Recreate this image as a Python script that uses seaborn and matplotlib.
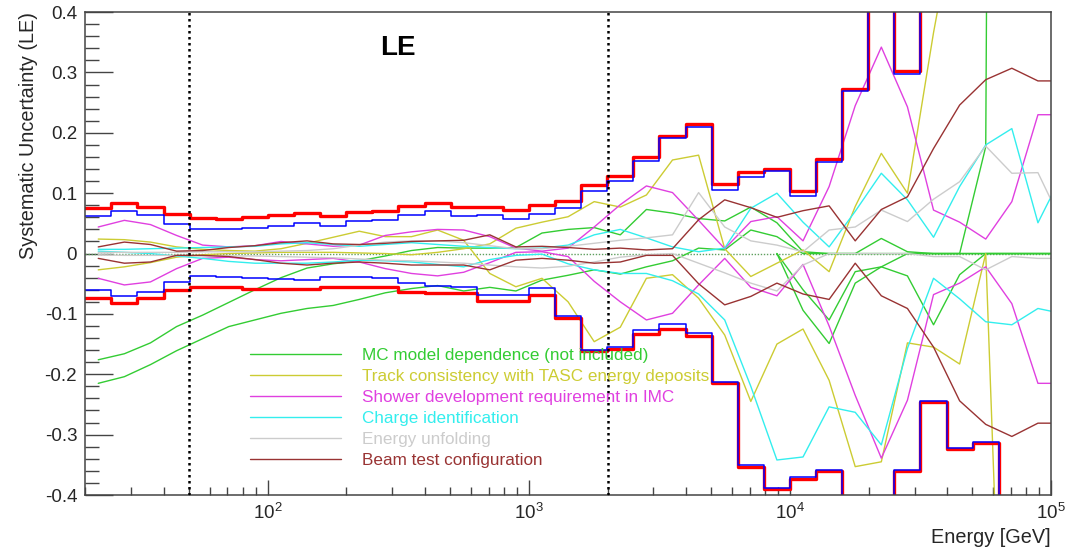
import numpy as np
import pandas as pd
import matplotlib
matplotlib.use("Agg")
import matplotlib.pyplot as plt
import seaborn as sns
from matplotlib.ticker import LogLocator, MultipleLocator, FuncFormatter, LogFormatterMathtext, NullFormatter

# ---------------- data ----------------
# histogram bins: 10 per decade from 10^1.3 (20 GeV) to 10^5 GeV
bin_edges = 10 ** (1.3 + 0.1 * np.arange(38))
# curve points at bin centres (the last one lies just beyond 10^5 GeV)
centres = 10 ** (1.35 + 0.1 * np.arange(38))

total_up_red = [0.075, 0.083, 0.077, 0.065, 0.059, 0.057, 0.060, 0.064, 0.067, 0.063,
                0.069, 0.070, 0.079, 0.083, 0.077, 0.077, 0.072, 0.080, 0.087, 0.113,
                0.128, 0.160, 0.195, 0.214, 0.115, 0.135, 0.140, 0.104, 0.156, 0.272,
                0.5, 0.302, 0.5, 0.5, 0.5, 0.5, 0.5]
total_up_blue = [0.062, 0.070, 0.064, 0.049, 0.041, 0.041, 0.042, 0.046, 0.050, 0.045,
                 0.054, 0.056, 0.064, 0.071, 0.063, 0.064, 0.057, 0.066, 0.075, 0.104,
                 0.121, 0.154, 0.191, 0.210, 0.106, 0.127, 0.136, 0.096, 0.151, 0.270,
                 0.5, 0.298, 0.5, 0.5, 0.5, 0.5, 0.5]
total_lo_red = [-0.074, -0.082, -0.074, -0.060, -0.056, -0.056, -0.058, -0.059, -0.059, -0.055,
                -0.055, -0.055, -0.063, -0.066, -0.066, -0.079, -0.079, -0.068, -0.107, -0.162,
                -0.158, -0.133, -0.125, -0.137, -0.215, -0.353, -0.390, -0.374, -0.360, -0.5,
                -0.5, -0.361, -0.246, -0.324, -0.314, -0.5, -0.5]
total_lo_blue = [-0.061, -0.071, -0.063, -0.047, -0.038, -0.039, -0.041, -0.042, -0.044, -0.039,
                 -0.039, -0.040, -0.049, -0.054, -0.056, -0.068, -0.068, -0.057, -0.104, -0.160,
                 -0.154, -0.127, -0.117, -0.132, -0.212, -0.350, -0.388, -0.371, -0.359, -0.5,
                 -0.5, -0.359, -0.245, -0.322, -0.313, -0.5, -0.5]

mc_a = [-0.176, -0.166, -0.148, -0.121, -0.102, -0.081, -0.060, -0.040, -0.024, -0.017,
        -0.012, -0.004, 0.005, 0.010, 0.009, 0.009, 0.010, 0.034, 0.040, 0.043,
        0.031, 0.073, 0.067, 0.058, 0.054, 0.077, 0.051, 0.003, 0.0, 0.0,
        0.025, 0.003, 0.0, 0.0, 0.177, 8.0, 8.0, 8.0]
mc_b = [-0.215, -0.204, -0.184, -0.161, -0.141, -0.121, -0.110, -0.099, -0.091, -0.086,
        -0.076, -0.065, -0.058, -0.053, -0.062, -0.056, -0.062, -0.044, -0.036, -0.027,
        -0.034, -0.022, -0.012, 0.009, 0.006, 0.039, 0.028, 0.0, 0.0, 0.0,
        0.0, 0.0, 0.0, 0.0, 0.0, 0.0, 0.0, 0.0]
mc_start = 26  # the two other MC curves start at this bin
mc_c = [0.0, -0.060, -0.110, -0.030, -0.022, -0.037, -0.118, -0.035, 0.0, 0.0, 0.0, 0.0]
mc_d = [0.0, -0.094, -0.149, -0.049, -0.022, 0.0, 0.0, 0.0, 0.0, 0.0, 0.0, 0.0]

track_1 = [0.024, 0.023, 0.019, 0.011, 0.007, 0.005, 0.004, 0.008, 0.017, 0.027,
           0.037, 0.028, 0.028, 0.039, 0.022, -0.033, -0.055, -0.041, -0.080, -0.146,
           -0.122, -0.041, -0.035, -0.074, -0.135, -0.245, -0.150, -0.125, -0.210, -0.353,
           -0.345, -0.148, -0.155, -0.183, 0.0, -1.2, -1.2, -1.2]
track_2 = [-0.027, -0.022, -0.015, -0.006, -0.002, 0.0, 0.001, 0.002, 0.002, 0.002,
           0.001, 0.0, -0.002, 0.002, 0.008, 0.016, 0.042, 0.052, 0.061, 0.086,
           0.077, 0.097, 0.155, 0.163, 0.008, -0.038, -0.016, 0.006, -0.030, 0.078,
           0.166, 0.100, 0.366, 0.6, 0.6, 0.6, 0.6, 0.6]

shower_1 = [0.044, 0.055, 0.048, 0.030, 0.014, 0.011, 0.013, 0.020, 0.016, 0.012,
            0.014, 0.030, 0.036, 0.040, 0.039, 0.028, 0.009, 0.004, 0.009, 0.044,
            0.081, 0.112, 0.101, 0.055, 0.008, 0.053, 0.061, 0.021, 0.111, 0.245,
            0.342, 0.243, 0.072, 0.052, 0.024, 0.086, 0.230, 0.230]
shower_2 = [-0.041, -0.052, -0.047, -0.025, -0.008, -0.006, -0.010, -0.012, -0.010, -0.008,
            -0.014, -0.025, -0.033, -0.037, -0.031, -0.015, 0.002, 0.003, -0.005, -0.046,
            -0.080, -0.110, -0.099, -0.052, -0.008, -0.056, -0.070, -0.018, -0.120, -0.235,
            -0.339, -0.243, -0.068, -0.049, -0.022, -0.083, -0.215, -0.215]

charge_1 = [0.007, 0.007, 0.008, 0.009, 0.010, 0.011, 0.012, 0.016, 0.018, 0.015,
            0.012, 0.015, 0.018, 0.015, 0.012, 0.010, 0.008, 0.009, 0.014, 0.031,
            0.040, 0.026, 0.011, 0.003, 0.009, 0.075, 0.100, 0.052, 0.011, 0.070,
            0.133, 0.089, 0.027, 0.111, 0.180, 0.207, 0.051, 0.137]
charge_2 = [0.004, 0.002, 0.0, -0.004, -0.008, -0.013, -0.016, -0.016, -0.016, -0.014,
            -0.011, -0.012, -0.014, -0.018, -0.022, -0.010, -0.003, -0.001, -0.017, -0.027,
            -0.033, -0.033, -0.045, -0.067, -0.110, -0.220, -0.342, -0.337, -0.254, -0.263,
            -0.317, -0.157, -0.041, -0.075, -0.113, -0.118, -0.091, -0.100]

unfold_1 = [0.002, 0.002, 0.002, 0.002, 0.003, 0.003, 0.003, 0.004, 0.005, 0.008,
            0.014, 0.019, 0.021, 0.021, 0.018, 0.013, 0.008, 0.008, 0.012, 0.017,
            0.022, 0.026, 0.031, 0.101, 0.044, 0.021, 0.014, 0.003, 0.039, 0.044,
            0.072, 0.053, 0.090, 0.119, 0.178, 0.133, 0.134, 0.044]
unfold_2 = [-0.002, -0.003, -0.003, -0.003, -0.004, -0.004, -0.004, -0.005, -0.006, -0.007,
            -0.009, -0.011, -0.012, -0.014, -0.016, -0.019, -0.022, -0.024, -0.021, -0.014,
            -0.006, -0.002, 0.0, -0.016, -0.032, -0.049, -0.062, -0.019, 0.0, 0.0,
            0.0, 0.0, -0.005, -0.005, -0.027, -0.005, -0.008, -0.008]

beam_1 = [0.011, 0.019, 0.015, 0.004, 0.005, 0.010, 0.013, 0.018, 0.021, 0.016,
          0.015, 0.017, 0.020, 0.021, 0.022, 0.031, 0.011, 0.012, 0.010, 0.007,
          0.009, 0.006, 0.008, 0.056, 0.089, 0.076, 0.060, 0.071, 0.079, 0.021,
          0.073, 0.094, 0.174, 0.246, 0.288, 0.307, 0.286, 0.286]
beam_2 = [-0.008, -0.016, -0.014, -0.003, -0.003, -0.005, -0.010, -0.016, -0.019, -0.016,
          -0.014, -0.016, -0.019, -0.019, -0.019, -0.027, -0.011, -0.008, -0.011, -0.016,
          -0.014, -0.003, -0.003, -0.050, -0.085, -0.071, -0.049, -0.067, -0.076, -0.016,
          -0.070, -0.091, -0.155, -0.244, -0.283, -0.303, -0.281, -0.281]

labels = ["MC model dependence (not included)",
          "Track consistency with TASC energy deposits",
          "Shower development requirement in IMC",
          "Charge identification",
          "Energy unfolding",
          "Beam test configuration"]
colors = ["#33cc33", "#cccc33", "#e040e0", "#33eeee", "#cccccc", "#993333"]
y_ticks = [-0.4, -0.3, -0.2, -0.1, 0.0, 0.1, 0.2, 0.3, 0.4]
cut_lines = [50, 2000]

# ---------------- plotting ----------------
sns.set_theme(style="ticks")
plt.rcParams['font.family'] = ['Liberation Sans', 'DejaVu Sans']
plt.rcParams['mathtext.fontset'] = 'custom'
plt.rcParams['mathtext.rm'] = 'Liberation Sans'
plt.rcParams['mathtext.it'] = 'Liberation Sans:italic'
plt.rcParams['mathtext.bf'] = 'Liberation Sans:bold'

fig = plt.figure(figsize=(10.67, 5.5), dpi=100)
ax = fig.add_axes([0.0801, 0.1, 0.9049, 0.878])

def curve(x, y, color, label=None, lw=1.0):
    df = pd.DataFrame({"E": x, "v": y})
    sns.lineplot(data=df, x="E", y="v", ax=ax, color=color, lw=lw,
                 estimator=None, sort=False, label=label if label else "_nolegend_",
                 legend=False)

ax.axhline(0, color="#5f9f5f", lw=1.0, ls=(0, (1, 1.2)), zorder=1)

mc_x = centres[mc_start:]
curve(centres, mc_a, colors[0], labels[0])
curve(centres, mc_b, colors[0])
curve(mc_x, mc_c, colors[0])
curve(mc_x, mc_d, colors[0])
curve(centres, track_1, colors[1], labels[1])
curve(centres, track_2, colors[1])
curve(centres, shower_1, colors[2], labels[2])
curve(centres, shower_2, colors[2])
curve(centres, charge_1, colors[3], labels[3])
curve(centres, charge_2, colors[3])
curve(centres, unfold_1, colors[4], labels[4])
curve(centres, unfold_2, colors[4])
curve(centres, beam_1, colors[5], labels[5])
curve(centres, beam_2, colors[5])

def hist(vals, color, lw):
    df = pd.DataFrame({"E": bin_edges, "v": list(vals) + [vals[-1]]})
    sns.lineplot(data=df, x="E", y="v", ax=ax, color=color, lw=lw,
                 estimator=None, sort=False, drawstyle="steps-post",
                 label="_nolegend_", legend=False)

hist(total_up_red, "#ff0000", 2.4)
hist(total_lo_red, "#ff0000", 2.4)
hist(total_up_blue, "#0000ff", 1.1)
hist(total_lo_blue, "#0000ff", 1.1)

for xc in cut_lines:
    ax.axvline(xc, color="black", lw=1.8, ls=(0, (1, 1.4)), zorder=5)

ax.set_xscale("log")
ax.set_xlim(20, 1e5)
ax.set_ylim(-0.4, 0.4)

ax.xaxis.set_major_locator(LogLocator(base=10, numticks=10))
ax.xaxis.set_minor_locator(LogLocator(base=10, subs=np.arange(2, 10), numticks=20))
ax.xaxis.set_major_formatter(LogFormatterMathtext())
ax.xaxis.set_minor_formatter(NullFormatter())
ax.set_yticks(y_ticks)
ax.yaxis.set_minor_locator(MultipleLocator(0.02))
ax.yaxis.set_major_formatter(FuncFormatter(lambda v, p: "0" if abs(v) < 1e-9 else f"{v:g}"))

frame = "#444444"
for s in ax.spines.values():
    s.set_color(frame)
    s.set_linewidth(1.1)
ax.tick_params(axis="y", which="major", direction="in", length=20, width=1, color=frame,
               left=True, right=False, labelsize=13.5, pad=6)
ax.tick_params(axis="y", which="minor", direction="in", length=10, width=1, color=frame,
               left=True, right=False)
ax.tick_params(axis="x", which="major", direction="in", length=11, width=1, color=frame,
               bottom=True, top=False, labelsize=13.5, pad=6)
ax.tick_params(axis="x", which="minor", direction="in", length=6, width=1, color=frame,
               bottom=True, top=False)

ax.set_xlabel("Energy [GeV]", loc="right", fontsize=14.3, labelpad=3)
ax.set_ylabel("Systematic Uncertainty (LE)", loc="top", fontsize=14.3, labelpad=5)

ax.text(0.324, 0.925, "LE", transform=ax.transAxes, ha="center", va="center",
        fontsize=20, fontweight="bold", color="black")

leg = ax.legend(loc="upper left", bbox_to_anchor=(0.1704, 0.3036), frameon=False,
                fontsize=12.3, handlelength=5.3, handletextpad=1.23, labelspacing=0.345,
                borderpad=0, borderaxespad=0, labelcolor="linecolor")

fig.savefig("out.png", dpi=100)
